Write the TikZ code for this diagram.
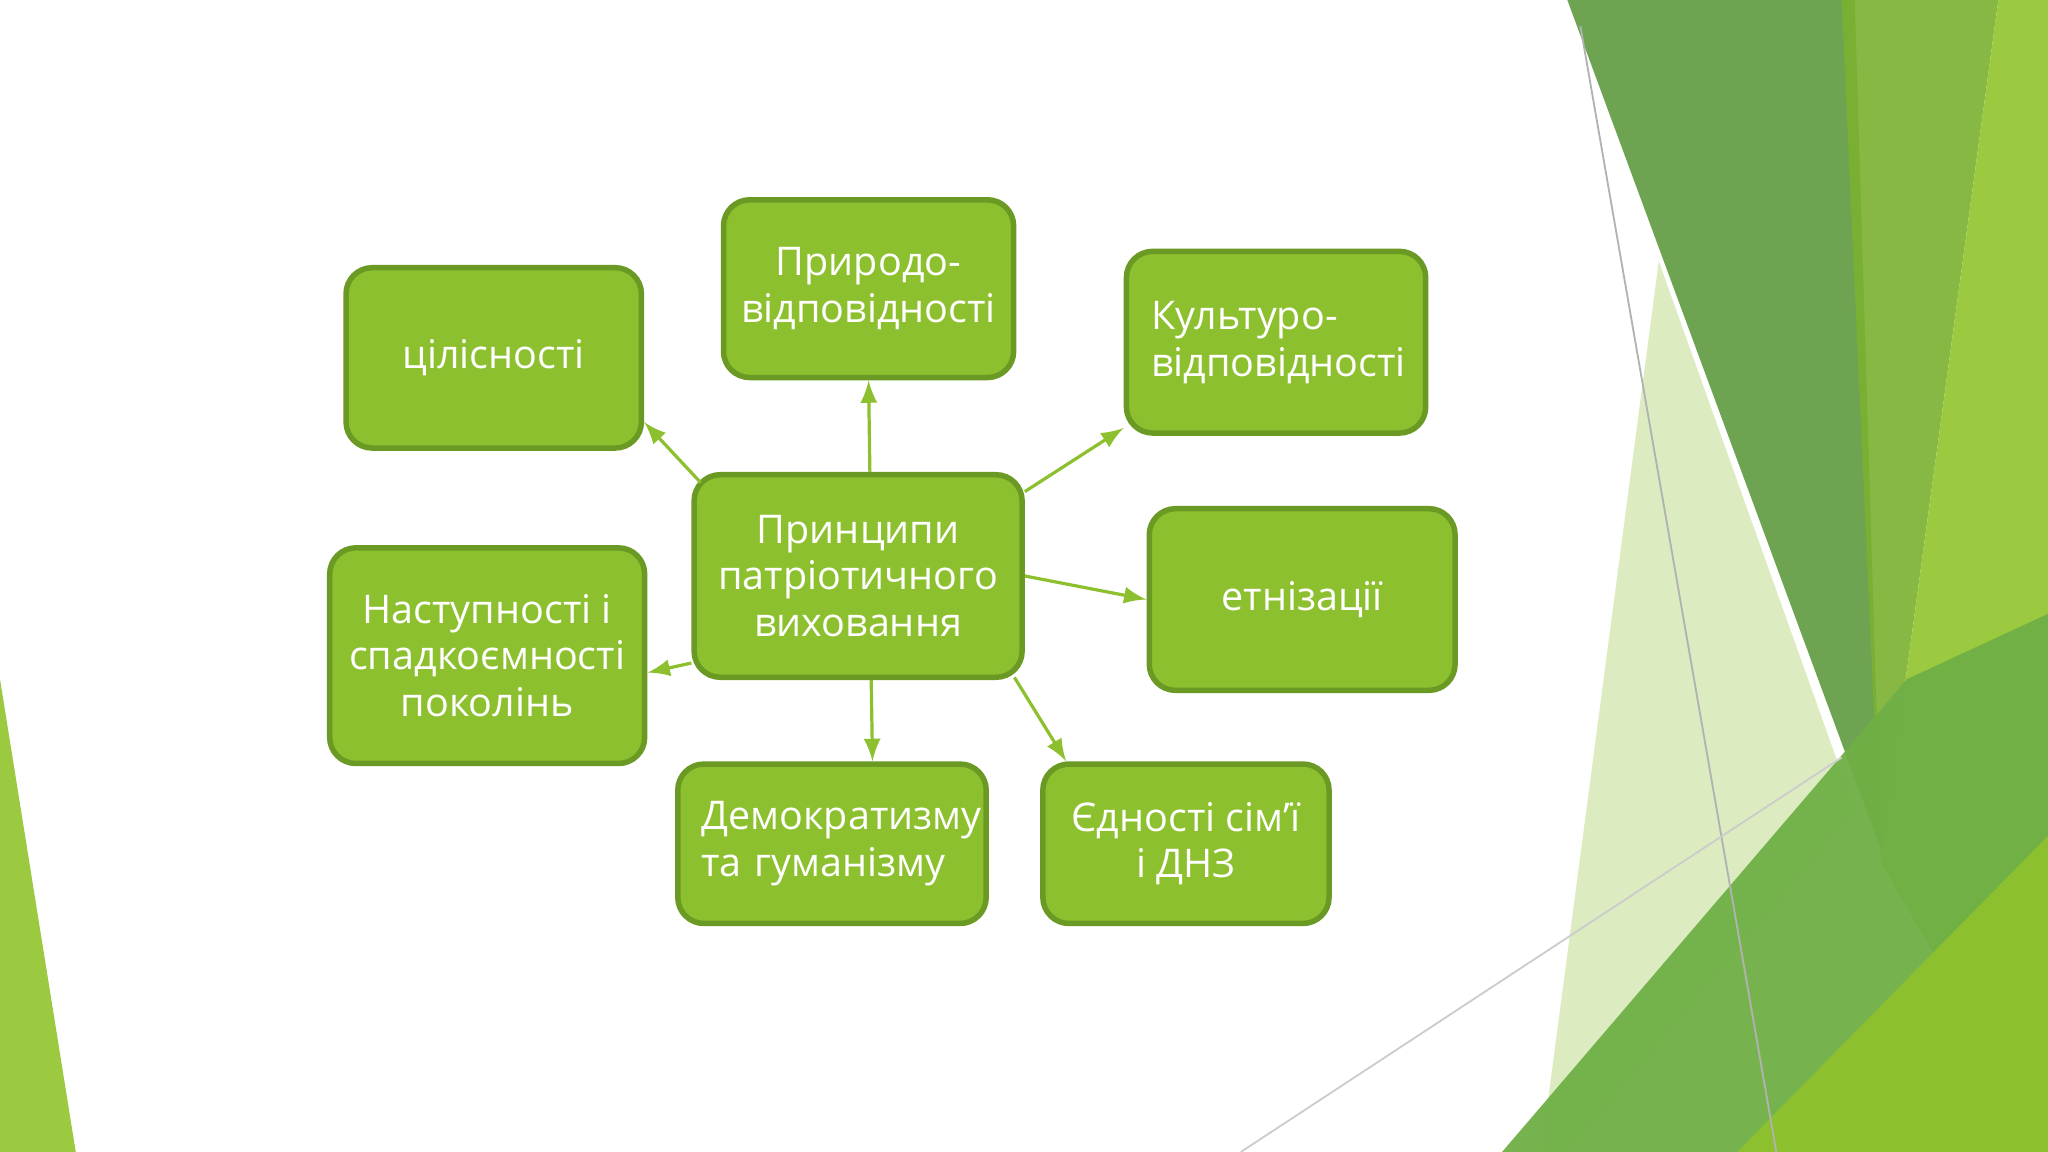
\documentclass[tikz,border=0pt]{standalone}
\usepackage{fontspec}
\setmainfont{Open Sans}
\definecolor{gfill}{HTML}{8DC02E}
\definecolor{gline}{HTML}{6A9A23}
\definecolor{dk}{HTML}{5E9A3E}
\definecolor{md}{HTML}{7BB030}
\definecolor{br}{HTML}{9BC93F}
\definecolor{pale}{HTML}{DDEBC0}
\definecolor{bot}{HTML}{6FAF45}
\begin{document}
\begin{tikzpicture}[x=0.01cm,y=-0.01cm,
  box/.style={draw=gline,line width=1.2pt,fill=gfill,rounded corners=0.2cm,text=white,font=\fontsize{8.6}{10.2}\selectfont,align=center,inner sep=0pt},
  arr/.style={-latex,draw=gfill,line width=0.7pt}]
\useasboundingbox (0,0) rectangle (1568,882);
% background shapes
\fill[pale] (1270,200) -- (1420,620) -- (1200,882) -- (1180,882) -- cycle;
\fill[dk,opacity=0.9] (1200,0) -- (1420,0) -- (1440,650) -- cycle;
\fill[md,opacity=0.9] (1410,0) -- (1530,0) -- (1440,660) -- cycle;
\fill[br] (1530,0) -- (1568,0) -- (1568,882) -- (1440,660) -- cycle;
\fill[bot,opacity=0.95] (1150,882) -- (1460,520) -- (1568,470) -- (1568,882) -- cycle;
\fill[gfill] (1330,882) -- (1568,640) -- (1568,882) -- cycle;
\fill[br] (0,520) -- (0,882) -- (58,882) -- cycle;
\draw[gray!60,line width=0.4pt] (1210,20) -- (1360,882);
\draw[gray!40,line width=0.4pt] (950,882) -- (1410,580);
% nodes
\node[box,minimum width=2.26cm,minimum height=1.38cm] (c1) at (378,274) {цілісності};
\node[box,minimum width=2.22cm,minimum height=1.36cm] (c2) at (665,221) {Природо-\\відповідності};
\node[box,minimum width=2.29cm,minimum height=1.39cm,text width=1.91cm,align=left] (c3) at (977,262) {Культуро-\\відповідності};
\node[box,minimum width=2.51cm,minimum height=1.55cm] (m) at (657,441) {Принципи\\патріотичного\\виховання};
\node[box,minimum width=2.34cm,minimum height=1.39cm] (c4) at (997,459) {етнізації};
\node[box,minimum width=2.41cm,minimum height=1.65cm] (c5) at (373,502) {Наступності і\\спадкоємності\\поколінь};
\node[box,minimum width=2.36cm,minimum height=1.22cm,text width=2.0cm,align=left] (c6) at (637,646) {Демократизму\\та гуманізму};
\node[box,minimum width=2.19cm,minimum height=1.22cm] (c7) at (908,646) {Єдності сім'ї\\і ДНЗ};
% connectors
\draw[arr] ([xshift=0.07cm,yshift=-0.08cm]m.north west) -- ([yshift=0.22cm]c1.south east);
\draw[arr] ([xshift=0.09cm]m.north) -- (c2.south);
\draw[arr] ([yshift=-0.15cm]m.north east) -- ([yshift=0.06cm]c3.south west);
\draw[arr] (m.east) -- (c4.west);
\draw[arr] ([xshift=-0.08cm,yshift=0.02cm]m.south east) -- ([xshift=0.2cm]c7.north west);
\draw[arr] ([xshift=0.1cm]m.south) -- ([xshift=0.31cm]c6.north);
\draw[arr] ([yshift=0.13cm]m.south west) -- ([yshift=-0.13cm]c5.east);
\end{tikzpicture}
\end{document}
